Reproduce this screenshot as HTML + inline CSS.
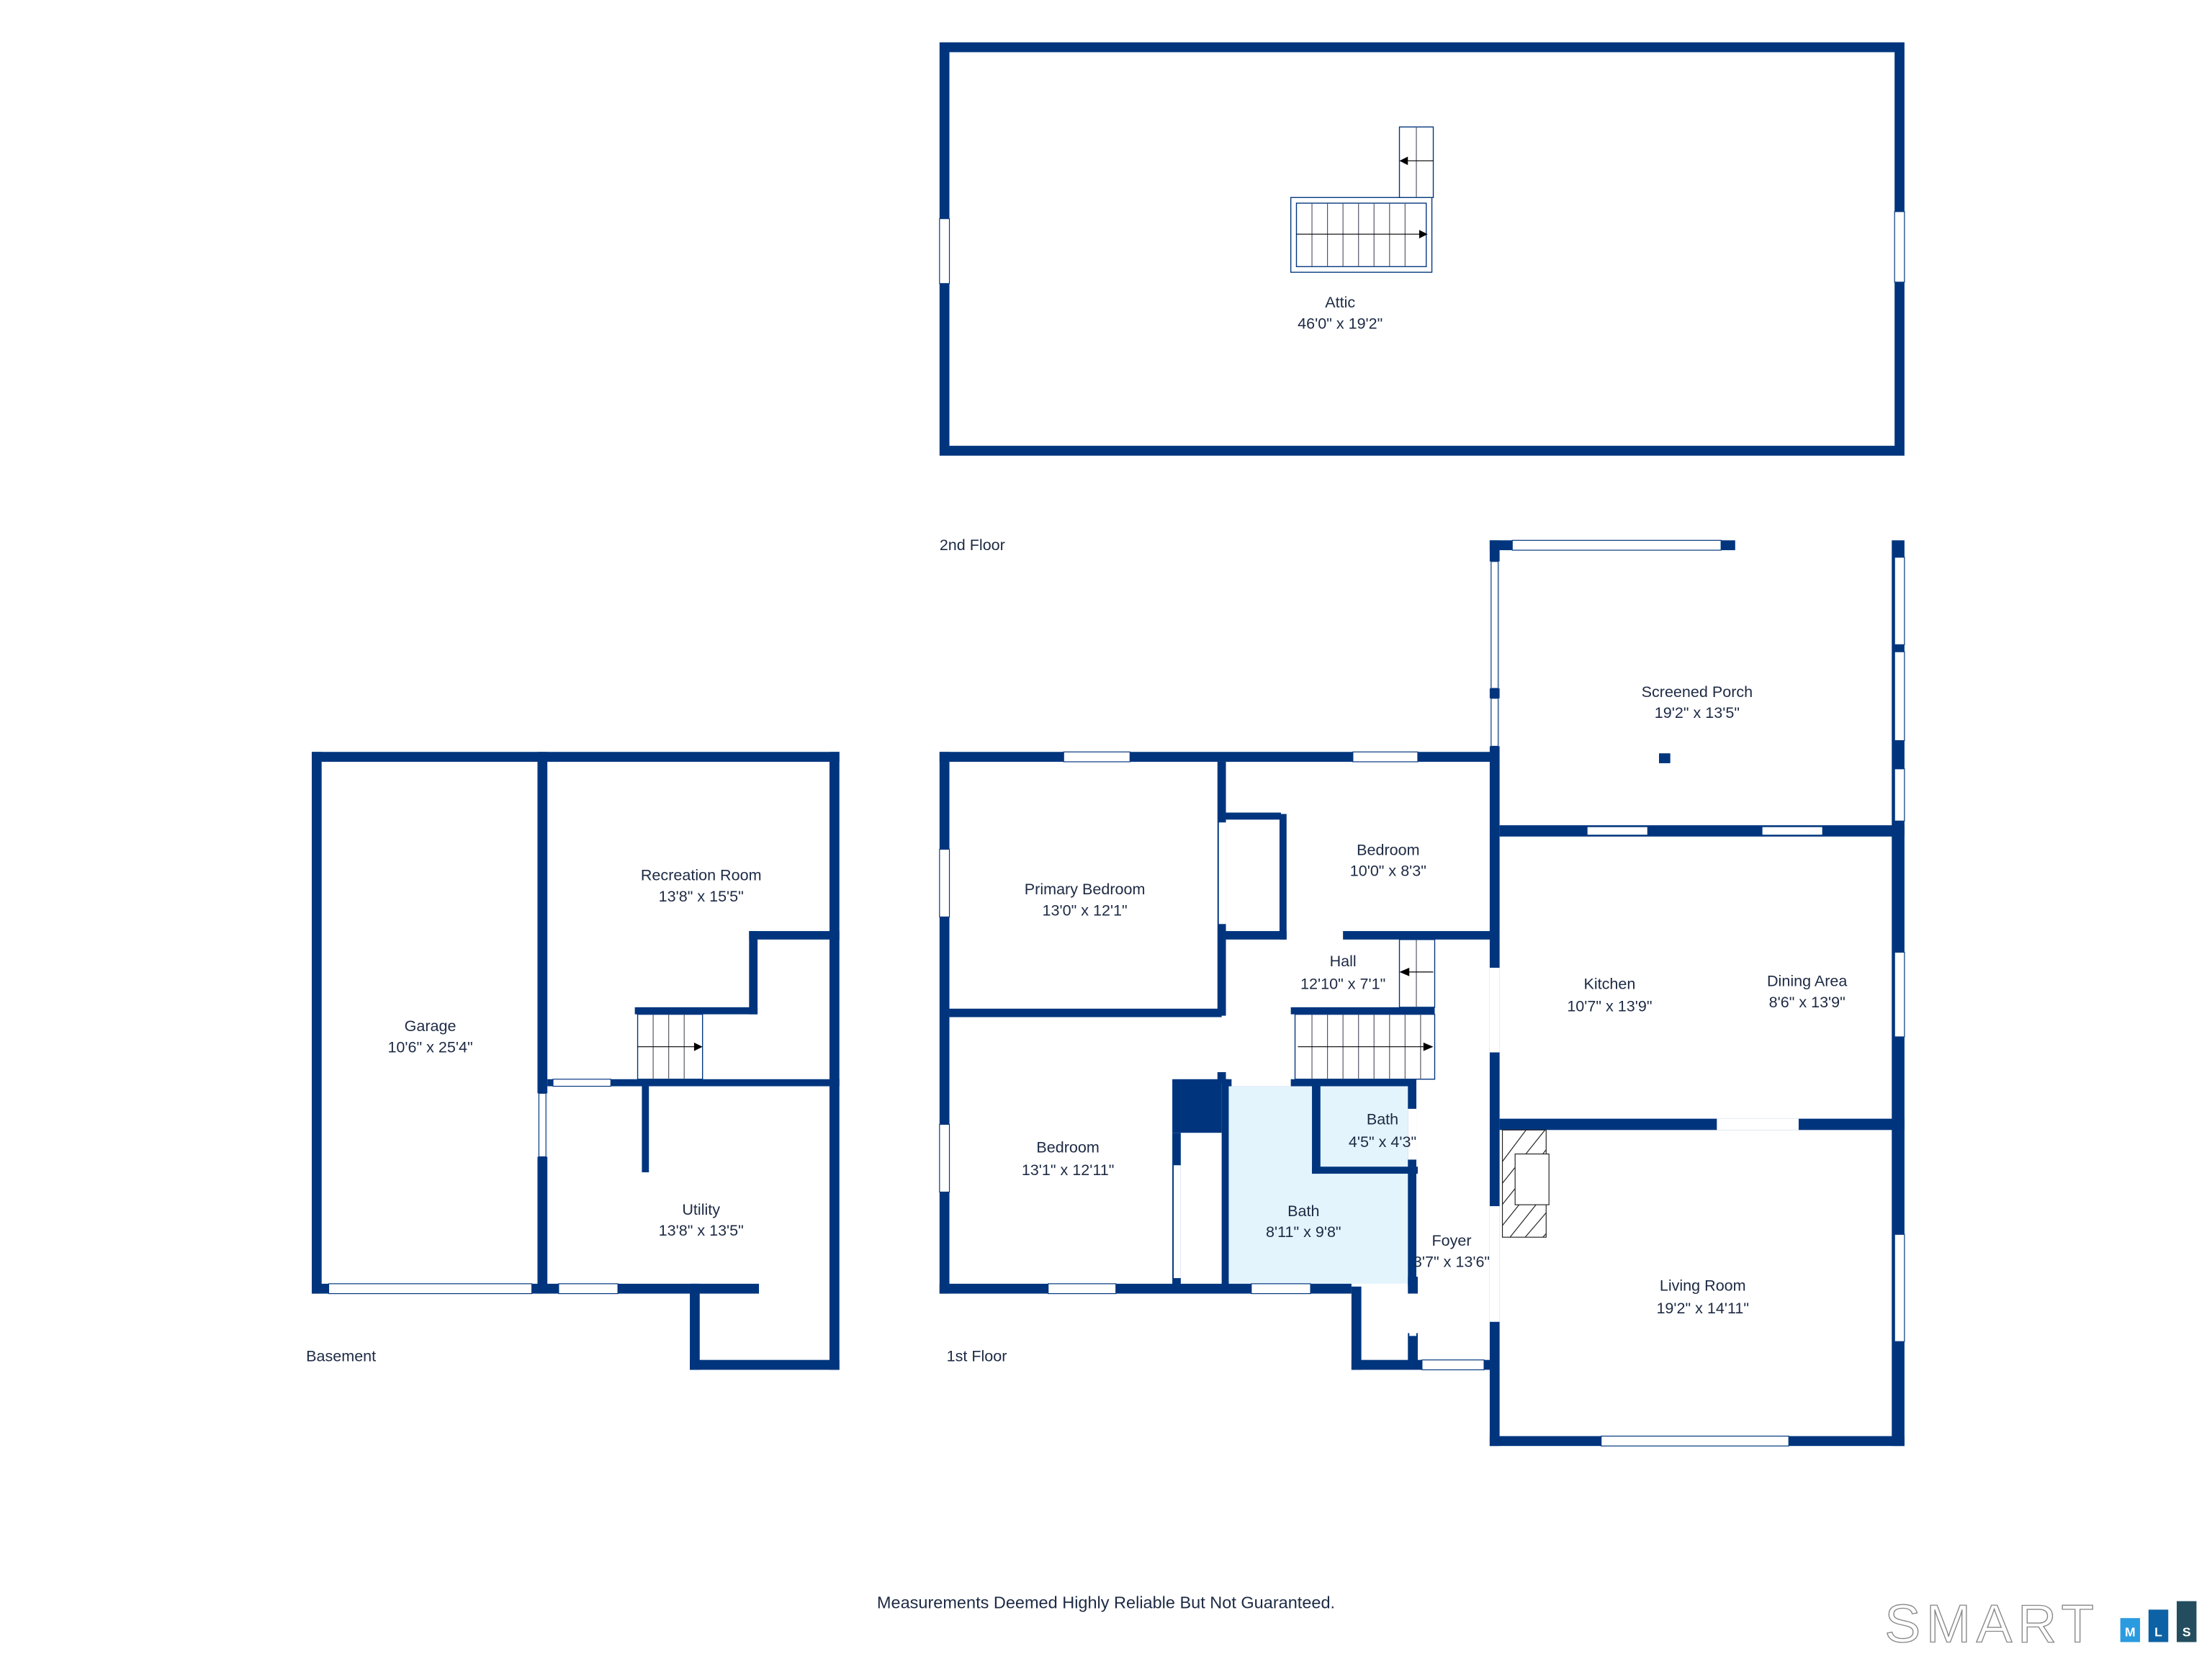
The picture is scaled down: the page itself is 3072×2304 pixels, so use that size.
<!DOCTYPE html>
<html><head><meta charset="utf-8"><style>
html,body{margin:0;padding:0;background:#fff}
svg{display:block}
text{font-family:"Liberation Sans",sans-serif;fill:#1d2a44;font-size:11px;text-anchor:middle}
.w{fill:#00357e}
.win{fill:#fff;stroke:#00357e;stroke-width:0.6}
.gap{fill:#fff}
.st{fill:#fff;stroke:#00357e;stroke-width:0.7}
.sl{stroke:#556;stroke-width:0.6}
</style></head><body>
<svg width="3072" height="2304" viewBox="0 0 1568 1176" xmlns="http://www.w3.org/2000/svg">
<rect width="1568" height="1176" fill="#fff"/>

<!-- ATTIC -->
<rect x="669.5" y="33.5" width="677" height="286" fill="none" stroke="#00357e" stroke-width="7"/>
<rect class="win" x="666" y="155" width="7" height="46"/>
<rect class="win" x="1343" y="150" width="7" height="50"/>
<rect class="st" x="915" y="140" width="100" height="53"/>
<rect class="st" x="919" y="144" width="92" height="45"/>
<g class="sl">
<line x1="930" y1="144" x2="930" y2="189"/><line x1="941" y1="144" x2="941" y2="189"/><line x1="952" y1="144" x2="952" y2="189"/><line x1="963" y1="144" x2="963" y2="189"/><line x1="974" y1="144" x2="974" y2="189"/><line x1="985" y1="144" x2="985" y2="189"/><line x1="996" y1="144" x2="996" y2="189"/>
<line x1="919" y1="166" x2="1008" y2="166" stroke="#000"/>
</g>
<polygon points="1012,166 1006,163 1006,169" fill="#000"/>
<rect class="st" x="992" y="90" width="24" height="50"/>
<line class="sl" x1="1004" y1="90" x2="1004" y2="140"/>
<line x1="996" y1="114" x2="1016" y2="114" stroke="#000" stroke-width="0.6"/>
<polygon points="992,114 998,111 998,117" fill="#000"/>
<text x="950" y="218">Attic</text>
<text x="950" y="233">46'0" x 19'2"</text>
<text x="666" y="390" style="text-anchor:start">2nd Floor</text>

<!-- BASEMENT -->
<rect class="w" x="221" y="533" width="374" height="7"/>
<rect class="w" x="221" y="533" width="7" height="384"/>
<rect class="w" x="588" y="533" width="7" height="438"/>
<rect class="w" x="381" y="533" width="7" height="384"/>
<rect class="gap" x="381" y="775" width="7" height="45"/><rect class="win" x="382" y="775" width="5" height="45"/>
<rect class="w" x="221" y="910" width="317" height="7"/>
<rect class="win" x="233" y="910" width="144" height="7"/>
<rect class="win" x="396" y="910" width="42" height="7"/>
<rect class="w" x="489" y="910" width="7" height="61"/>
<rect class="w" x="489" y="964" width="106" height="7"/>
<rect class="w" x="388" y="765" width="207" height="5"/>
<rect class="gap" x="392" y="764" width="41" height="7"/><rect class="win" x="392" y="765" width="41" height="5"/>
<rect class="w" x="450" y="714" width="87" height="5"/>
<rect class="w" x="531" y="660" width="6" height="59"/>
<rect class="w" x="531" y="660" width="64" height="6"/>
<rect class="w" x="455" y="765" width="5" height="66"/>
<rect class="st" x="452" y="719" width="46" height="46"/>
<g class="sl"><line x1="463" y1="719" x2="463" y2="765"/><line x1="474" y1="719" x2="474" y2="765"/><line x1="485" y1="719" x2="485" y2="765"/>
<line x1="452" y1="742" x2="494" y2="742" stroke="#000"/></g>
<polygon points="498,742 492,739 492,745" fill="#000"/>
<text x="305" y="731">Garage</text><text x="305" y="746">10'6" x 25'4"</text>
<text x="497" y="624">Recreation Room</text><text x="497" y="639">13'8" x 15'5"</text>
<text x="497" y="861">Utility</text><text x="497" y="876">13'8" x 13'5"</text>
<text x="217" y="965" style="text-anchor:start">Basement</text>

<!-- 1ST FLOOR -->
<rect fill="#e4f4fd" x="869" y="768" width="132" height="142"/>
<rect fill="#e4f4fd" x="934" y="768" width="67" height="64"/>
<rect class="w" x="666" y="533" width="394" height="7"/>
<rect class="w" x="666" y="533" width="7" height="384"/>
<rect class="win" x="666" y="602" width="7" height="48"/>
<rect class="win" x="666" y="797" width="7" height="48"/>
<rect class="win" x="754" y="533" width="47" height="7"/>
<rect class="win" x="959" y="533" width="46" height="7"/>
<rect class="w" x="666" y="910" width="292" height="7"/>
<rect class="win" x="743" y="910" width="48" height="7"/>
<rect class="win" x="887" y="910" width="42" height="7"/>
<rect class="w" x="958" y="912" width="7" height="59"/>
<rect class="w" x="958" y="964" width="102" height="7"/>
<rect class="win" x="1008" y="964" width="44" height="7"/>
<rect class="w" x="673" y="715" width="193" height="6"/>
<rect class="w" x="863" y="540" width="6" height="180"/>
<rect class="gap" x="864" y="583" width="5" height="72"/>
<rect class="w" x="863" y="760" width="6" height="8"/>
<rect class="w" x="866" y="576" width="42" height="5"/>
<rect class="w" x="866" y="660" width="46" height="6"/>
<rect class="w" x="907" y="577" width="5" height="89"/>
<rect class="w" x="952" y="660" width="108" height="6"/>
<rect class="w" x="1056" y="383" width="7" height="642"/>
<rect class="gap" x="1056" y="398" width="7" height="90"/><rect class="win" x="1057" y="398" width="5" height="90"/>
<rect class="gap" x="1056" y="495" width="7" height="34"/><rect class="win" x="1057" y="495" width="5" height="34"/>
<rect class="gap" x="1056" y="686" width="7" height="60"/>
<rect class="gap" x="1056" y="855" width="7" height="82"/>
<rect class="w" x="1056" y="383" width="174" height="7"/>
<rect class="win" x="1072" y="383" width="148" height="7"/>
<rect class="w" x="1341" y="383" width="9" height="642"/>
<rect class="win" x="1343" y="395" width="7" height="62"/>
<rect class="win" x="1343" y="462" width="7" height="63"/>
<rect class="win" x="1343" y="545" width="7" height="37"/>
<rect class="win" x="1343" y="675" width="7" height="60"/>
<rect class="win" x="1343" y="875" width="7" height="76"/>
<rect class="w" x="1063" y="585" width="287" height="8"/>
<rect class="win" x="1125" y="586" width="43" height="6"/>
<rect class="win" x="1249" y="586" width="43" height="6"/>
<rect class="w" x="1063" y="793" width="287" height="8"/>
<rect class="gap" x="1217" y="793" width="58" height="8"/>
<rect class="w" x="1056" y="1018" width="294" height="7"/>
<rect class="win" x="1135" y="1018" width="133" height="7"/>
<!-- hall stairs -->
<rect class="w" x="915" y="714" width="102" height="5"/>
<rect class="st" x="918" y="719" width="99" height="46"/>
<g class="sl"><line x1="930" y1="719" x2="930" y2="765"/><line x1="941" y1="719" x2="941" y2="765"/><line x1="952" y1="719" x2="952" y2="765"/><line x1="963" y1="719" x2="963" y2="765"/><line x1="974" y1="719" x2="974" y2="765"/><line x1="985" y1="719" x2="985" y2="765"/><line x1="996" y1="719" x2="996" y2="765"/><line x1="1007" y1="719" x2="1007" y2="765"/>
<line x1="920" y1="742" x2="1012" y2="742" stroke="#000"/></g>
<polygon points="1016,742 1009,739 1009,745" fill="#000"/>
<rect class="st" x="992" y="666" width="25" height="48"/>
<line class="sl" x1="1004" y1="666" x2="1004" y2="714"/>
<line x1="996" y1="689" x2="1016" y2="689" stroke="#000" stroke-width="0.6"/>
<polygon points="992,689 999,686 999,692" fill="#000"/>
<rect class="w" x="869" y="765" width="135" height="5"/>
<rect class="gap" x="873" y="764" width="42" height="6"/>
<rect class="w" x="831" y="765" width="35" height="38"/>
<rect class="w" x="831" y="803" width="6" height="109"/>
<rect class="gap" x="832" y="826" width="5" height="80"/>
<rect class="w" x="866" y="765" width="5" height="147"/>
<rect class="w" x="930" y="768" width="6" height="64"/>
<rect class="w" x="930" y="827" width="75" height="5"/>
<rect class="w" x="998" y="768" width="6" height="144"/>
<rect class="gap" x="998" y="786" width="6" height="36"/>
<rect class="w" x="998" y="905" width="7" height="12"/>
<rect class="w" x="998" y="945" width="7" height="24"/>
<rect class="gap" x="999" y="917" width="5" height="30"/>
<!-- fireplace -->
<g>
<rect x="1065" y="801" width="31" height="76" fill="#fff" stroke="#222" stroke-width="0.6"/>
<clipPath id="fp"><rect x="1065" y="801" width="31" height="76"/></clipPath>
<g clip-path="url(#fp)" stroke="#222" stroke-width="0.6">
<line x1="1060" y1="830" x2="1090" y2="790"/><line x1="1060" y1="845" x2="1100" y2="795"/><line x1="1060" y1="860" x2="1100" y2="810"/><line x1="1060" y1="875" x2="1100" y2="825"/><line x1="1060" y1="890" x2="1100" y2="840"/><line x1="1070" y1="890" x2="1100" y2="855"/><line x1="1082" y1="890" x2="1100" y2="870"/>
</g>
<rect x="1074" y="818" width="24" height="36" fill="#fff" stroke="#222" stroke-width="0.6"/>
</g>
<rect class="w" x="1176" y="534" width="8" height="7"/>
<text x="769" y="634">Primary Bedroom</text><text x="769" y="649">13'0" x 12'1"</text>
<text x="984" y="606">Bedroom</text><text x="984" y="621">10'0" x 8'3"</text>
<text x="952" y="685">Hall</text><text x="952" y="701">12'10" x 7'1"</text>
<text x="757" y="817">Bedroom</text><text x="757" y="833">13'1" x 12'11"</text>
<text x="980" y="797">Bath</text><text x="980" y="813">4'5" x 4'3"</text>
<text x="924" y="862">Bath</text><text x="924" y="877">8'11" x 9'8"</text>
<text x="1029" y="883">Foyer</text><text x="1029" y="898">3'7" x 13'6"</text>
<text x="1203" y="494">Screened Porch</text><text x="1203" y="509">19'2" x 13'5"</text>
<text x="1141" y="701">Kitchen</text><text x="1141" y="717">10'7" x 13'9"</text>
<text x="1281" y="699">Dining Area</text><text x="1281" y="714">8'6" x 13'9"</text>
<text x="1207" y="915">Living Room</text><text x="1207" y="931">19'2" x 14'11"</text>
<text x="671" y="965" style="text-anchor:start">1st Floor</text>
<text x="784" y="1140" style="font-size:12px">Measurements Deemed Highly Reliable But Not Guaranteed.</text>
<!-- logo -->
<text x="1336" y="1164" style="text-anchor:start;font-size:38px;fill:#fff;stroke:#888;stroke-width:0.7;letter-spacing:4px">SMART</text>
<rect x="1503" y="1147" width="14" height="17" fill="#2b9be0"/>
<rect x="1523" y="1141" width="14" height="23" fill="#0c62a4"/>
<rect x="1543" y="1135" width="14" height="29" fill="#234d5e"/>
<text x="1510" y="1160" style="fill:#fff;font-size:9px;font-weight:bold">M</text>
<text x="1530" y="1160" style="fill:#fff;font-size:9px;font-weight:bold">L</text>
<text x="1550" y="1160" style="fill:#fff;font-size:9px;font-weight:bold">S</text>
</svg>
</body></html>
